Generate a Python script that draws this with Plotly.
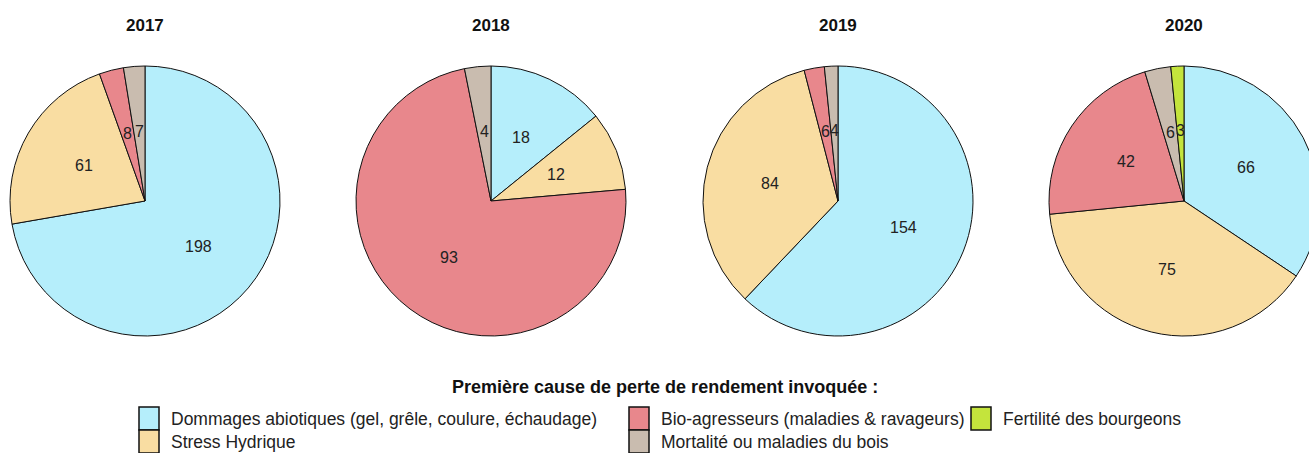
import math
import plotly.graph_objects as go

# ---- data ----
years = ["2017", "2018", "2019", "2020"]
categories = [
    "Dommages abiotiques (gel, grêle, coulure, échaudage)",
    "Stress Hydrique",
    "Bio-agresseurs (maladies & ravageurs)",
    "Mortalité ou maladies du bois",
    "Fertilité des bourgeons",
]
values_2017 = [198, 61, 8, 7, 0]
values_2018 = [18, 12, 93, 4, 0]
values_2019 = [154, 84, 6, 4, 0]
values_2020 = [66, 75, 42, 6, 3]
colors = ["#B5EEFB", "#F9DDA2", "#E8878C", "#C9BCAF", "#C4E43C"]
legend_title = "Première cause de perte de rendement invoquée :"

all_values = [values_2017, values_2018, values_2019, values_2020]

# ---- layout geometry ----
W, H = 1320, 453
R = 135
centers_x = [145, 491, 838, 1184]
cy = 201
FONT = "Liberation Sans, Arial, sans-serif"

fig = go.Figure()
annotations = []
for year, vals, cx in zip(years, all_values, centers_x):
    labs = [c for c, v in zip(categories, vals) if v > 0]
    vs = [v for v in vals if v > 0]
    cols = [col for col, v in zip(colors, vals) if v > 0]
    fig.add_trace(go.Pie(
        labels=labs, values=vs, sort=False, direction="clockwise", rotation=0,
        marker=dict(colors=cols, line=dict(color="#111111", width=1)),
        textinfo="none", hoverinfo="label+value", showlegend=False,
        domain=dict(x=[(cx - R) / W, (cx + R) / W], y=[(H - cy - R) / H, (H - cy + R) / H]),
    ))
    # year title
    annotations.append(dict(
        text="<b>%s</b>" % year, x=cx / W, y=(H - 26) / H, xref="paper", yref="paper",
        showarrow=False, font=dict(size=17, color="#111", family=FONT),
        xanchor="center", yanchor="middle"))
    # slice value labels at half radius
    total = sum(vs)
    cum = 0
    for v in vs:
        mid = (cum + v / 2) / total * 2 * math.pi
        cum += v
        r = 0.52 * R
        px = cx + r * math.sin(mid)
        py = cy - r * math.cos(mid)
        annotations.append(dict(
            text=str(v), x=px / W, y=(H - py) / H, xref="paper", yref="paper",
            showarrow=False, font=dict(size=16, color="#222", family=FONT),
            xanchor="center", yanchor="middle"))

# ---- legend (built from categories / colors) ----
annotations.append(dict(
    text="<b>%s</b>" % legend_title, x=665 / W, y=(H - 387) / H, xref="paper", yref="paper",
    showarrow=False, font=dict(size=18, color="#111", family=FONT),
    xanchor="center", yanchor="middle"))

legend_slots = [  # (box left x, row) per category
    (139, 0), (139, 1), (629, 0), (629, 1), (971, 0)
]
shapes = []
box_w, box_h = 20, 23
row_top = [407, 430]
for cat, col, (bx, row) in zip(categories, colors, legend_slots):
    y0 = row_top[row]
    shapes.append(dict(
        type="rect", xref="paper", yref="paper",
        x0=bx / W, x1=(bx + box_w) / W, y0=(H - y0) / H, y1=(H - y0 - box_h) / H,
        fillcolor=col, line=dict(color="#111", width=1.5)))
    annotations.append(dict(
        text=cat, x=(bx + box_w + 10) / W, y=(H - y0 - box_h / 2) / H,
        xref="paper", yref="paper", showarrow=False,
        font=dict(size=17.5, color="#222", family=FONT),
        xanchor="left", yanchor="middle"))

fig.update_layout(
    width=W, height=H, margin=dict(l=0, r=0, t=0, b=0),
    paper_bgcolor="white", plot_bgcolor="white",
    annotations=annotations, shapes=shapes, showlegend=False,
)

fig.write_html(
    "out.html",
    config={"displayModeBar": False},
    post_script="document.body.style.margin='0';document.body.style.overflow='hidden';",
)
